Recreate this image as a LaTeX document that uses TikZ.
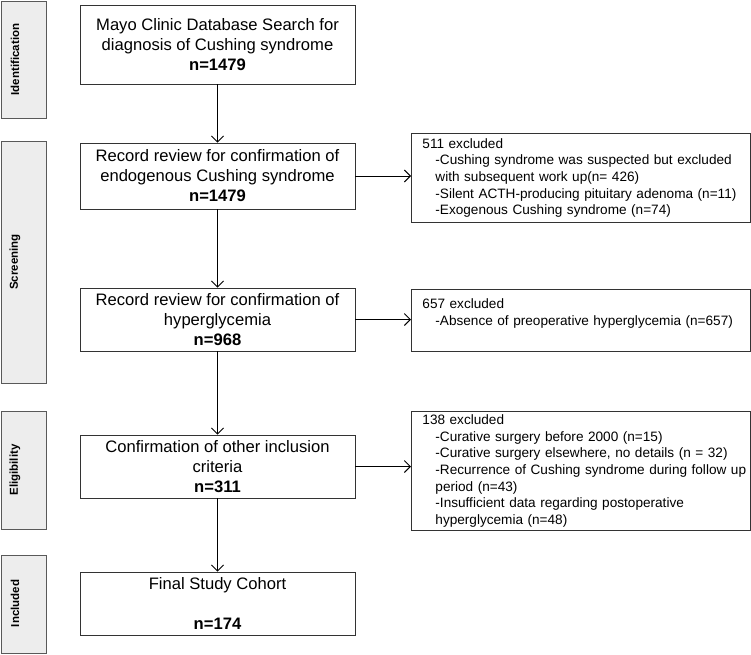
\documentclass[tikz,border=0pt]{standalone}
\usepackage{fontspec}
\setmainfont{Liberation Sans}
\usepackage{tikz}
\usetikzlibrary{arrows.meta,positioning}

\newcommand{\exline}[1]{\mbox{\hspace*{13pt}#1}}

\begin{document}
\begin{tikzpicture}[x=1pt, y=-1pt, >={Straight Barb[length=6pt,width=12pt]},
  stagebox/.style={draw=black!80, line width=0.9pt, minimum width=275pt, inner sep=0pt,
    align=center, font=\fontsize{16.6}{20}\selectfont},
  exclbox/.style={draw=black!80, line width=0.9pt, anchor=north west, minimum width=339pt,
    text width=317pt, inner xsep=11pt, inner ysep=0pt, align=left, font=\fontsize{13.6}{16.6}\selectfont},
  phasebox/.style={draw=black!65, line width=0.9pt, fill=black!7, anchor=north west,
    minimum width=45pt, inner sep=0pt},
  phasetext/.style={rotate=90, font=\fontsize{11.5}{13}\selectfont\bfseries}]
\useasboundingbox (0,0) rectangle (751,654);
% --- Phase labels ---
\node[phasebox, minimum height=117pt] (idbox) at (1,1) {};
\node[phasebox, minimum height=242pt] (scrbox) at (1,141) {};
\node[phasebox, minimum height=118pt] (elbox) at (1,411) {};
\node[phasebox, minimum height=98pt] (incbox) at (1,555) {};
\node[phasetext] (idtext) at (15,59.5) {Identification};
\node[phasetext] (scrtext) at (15,262) {Screening};
\node[phasetext] (eltext) at (15,470) {Eligibility};
\node[phasetext] (inctext) at (15,603.5) {Included};
% --- Main flow ---
\node[stagebox, minimum height=79pt] (search) at (217.5,44.5)
  {Mayo Clinic Database Search for\\diagnosis of Cushing syndrome\\\textbf{n=1479}};
\node[stagebox, minimum height=66pt] (confirm) at (217.5,176)
  {Record review for confirmation of\\endogenous Cushing syndrome\\\textbf{n=1479}};
\node[stagebox, minimum height=63pt] (hyper) at (217.5,319.5)
  {Record review for confirmation of\\hyperglycemia\\\textbf{n=968}};
\node[stagebox, minimum height=63pt] (criteria) at (217.5,466.5)
  {Confirmation of other inclusion\\criteria\\\textbf{n=311}};
\node[stagebox, minimum height=63pt] (cohort) at (217.5,603.5)
  {Final Study Cohort\\[20pt]\textbf{n=174}};
% --- Exclusions ---
\node[exclbox, minimum height=89pt] (exclA) at (411,133)
  {511 excluded\\
   \exline{-Cushing syndrome was suspected but excluded}\\
   \exline{with subsequent work up(n= 426)}\\
   \exline{-Silent ACTH-producing pituitary adenoma (n=11)}\\
   \exline{-Exogenous Cushing syndrome (n=74)}};
\node[exclbox, minimum height=62pt] (exclB) at (411,289)
  {657 excluded\\
   \exline{-Absence of preoperative hyperglycemia (n=657)}\\
   \mbox{}};
\node[exclbox, minimum height=119pt] (exclC) at (411,411)
  {138 excluded\\
   \exline{-Curative surgery before 2000 (n=15)}\\
   \exline{-Curative surgery elsewhere, no details (n = 32)}\\
   \exline{-Recurrence of Cushing syndrome during follow up}\\
   \exline{period (n=43)}\\
   \exline{-Insufficient data regarding postoperative}\\
   \exline{hyperglycemia (n=48)}};
% --- Arrows ---
\draw[->, line width=0.9pt] (search) -- (confirm);
\draw[->, line width=0.9pt] (confirm) -- (hyper);
\draw[->, line width=0.9pt] (hyper) -- (criteria);
\draw[->, line width=0.9pt] (criteria) -- (cohort);
\draw[->, line width=0.9pt] (confirm.east) -- (confirm.east -| exclA.west);
\draw[->, line width=0.9pt] (hyper.east) -- (hyper.east -| exclB.west);
\draw[->, line width=0.9pt] (criteria.east) -- (criteria.east -| exclC.west);
\end{tikzpicture}
\end{document}
